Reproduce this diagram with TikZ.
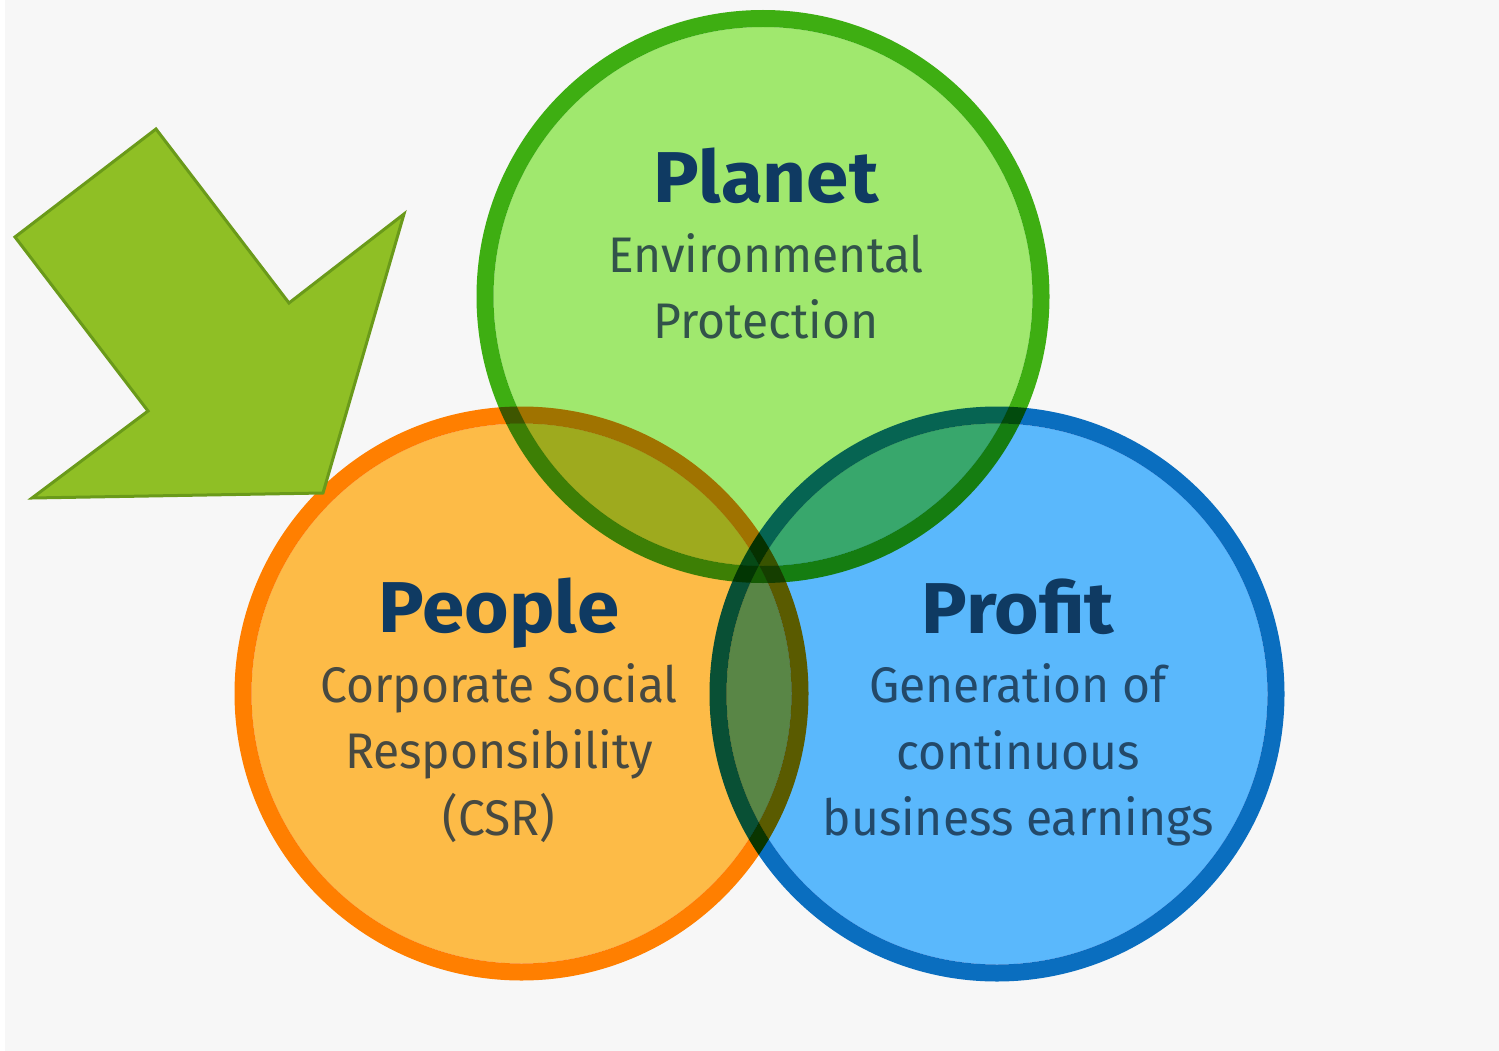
\documentclass[tikz,border=0pt]{standalone}
\usepackage{fontspec}
\setmainfont{Fira Sans}[FakeStretch=0.96]
\newfontfamily\titlefont{Fira Sans}[FakeStretch=1.06,UprightFont=* Bold]
\definecolor{bg}{HTML}{F7F7F7}
\definecolor{planetfill}{HTML}{A0E86E}
\definecolor{planetline}{HTML}{3EAE12}
\definecolor{peoplefill}{HTML}{FDBB47}
\definecolor{peopleline}{HTML}{FF7F00}
\definecolor{profitfill}{HTML}{5AB8FC}
\definecolor{profitline}{HTML}{0A6EBF}
\definecolor{arrowfill}{HTML}{8FBF25}
\definecolor{arrowline}{HTML}{6A9A1A}
\definecolor{titlecol}{HTML}{0F3A62}
\definecolor{subcol}{HTML}{142A40}
\tikzset{
  ring/.style={line width=17pt},
  titletext/.style={anchor=base, inner sep=0pt, text=titlecol, font=\titlefont\fontsize{72}{72}\selectfont},
  subtext/.style={anchor=base, inner sep=0pt, text=subcol, text opacity=0.78, font=\fontsize{50}{50}\selectfont},
}
\begin{document}
\begin{tikzpicture}[x=1pt,y=-1pt]
\useasboundingbox (0,0) rectangle (1499,1051);
\fill[bg] (0,0) rectangle (1499,1051);
\fill[white] (0,0) rectangle (5,1051);
\coordinate (cpeople) at (521.5,693.5);
\coordinate (cprofit) at (997,694);
\coordinate (cplanet) at (763,296.5);
\begin{scope}[blend group=multiply]
  \fill[peoplefill] (cpeople) circle[radius=270];
  \fill[profitfill] (cprofit) circle[radius=270.5];
  \fill[planetfill] (cplanet) circle[radius=269.5];
  \draw[ring, draw=peopleline] (cpeople) circle[radius=278.5];
  \draw[ring, draw=profitline] (cprofit) circle[radius=279];
  \draw[ring, draw=planetline] (cplanet) circle[radius=278];
\end{scope}
\coordinate (a1) at (156,129);
\coordinate (a2) at (289,303);
\coordinate (a3) at (404,214);
\coordinate (a4) at (323,493);
\coordinate (a5) at (32,498);
\coordinate (a6) at (148,411);
\coordinate (a7) at (15,237);
\draw[line width=3pt, draw=arrowline, fill=arrowfill, line join=miter]
  (a1) -- (a2) -- (a3) -- (a4) -- (a5) -- (a6) -- (a7) -- cycle;
% Planet
\node[titletext] (planet) at (766,203) {Planet};
\node[subtext] (planet1) at (766,272) {Environmental};
\node[subtext] (planet2) at (766,338) {Protection};
% People
\node[titletext] (people) at (499,632) {People};
\node[subtext] (people1) at (499,702) {Corporate Social};
\node[subtext] (people2) at (499,768) {Responsibility};
\node[subtext] (people3) at (499,835) {(CSR)};
% Profit
\node[titletext] (profit) at (1018,633) {Profit};
\node[subtext] (profit1) at (1018,702) {Generation of};
\node[subtext] (profit2) at (1018,769) {continuous};
\node[subtext] (profit3) at (1018,835) {business earnings};
\end{tikzpicture}
\end{document}
